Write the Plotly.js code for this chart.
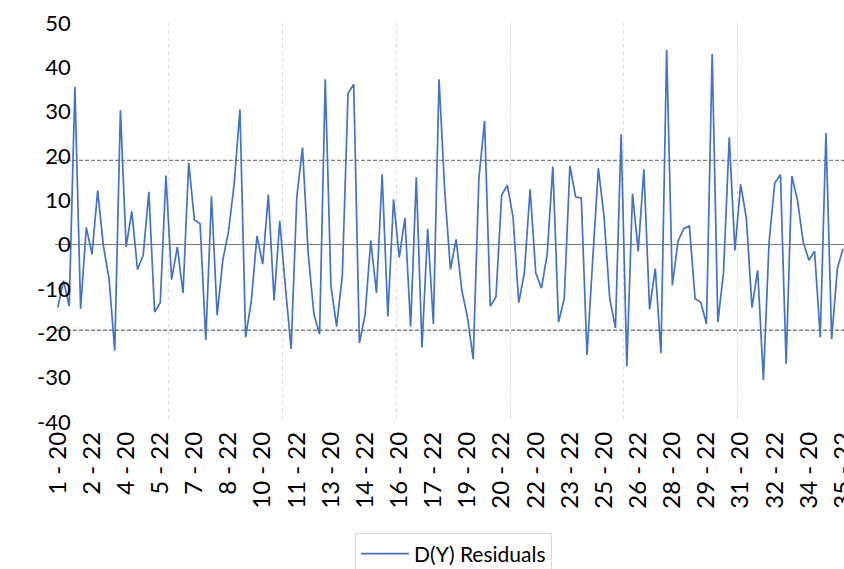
<!DOCTYPE html>
<html>
<head>
<meta charset="utf-8">
<script src="https://cdn.plot.ly/plotly-3.0.1.min.js"></script>
<style>html,body{margin:0;padding:0;background:#fff;}#chart{width:844px;height:569px;}</style>
</head>
<body>
<div id="chart"></div>
<script>
// Category labels: "week - year"
const categories = [
"1 - 20","1 - 21","1 - 22","1 - 23","2 - 20","2 - 21","2 - 22","2 - 23","3 - 20","3 - 21","3 - 22","3 - 23",
"4 - 20","4 - 21","4 - 22","4 - 23","5 - 20","5 - 21","5 - 22","5 - 23","6 - 20","6 - 21","6 - 22","6 - 23",
"7 - 20","7 - 21","7 - 22","7 - 23","8 - 20","8 - 21","8 - 22","8 - 23","9 - 20","9 - 21","9 - 22","9 - 23",
"10 - 20","10 - 21","10 - 22","10 - 23","11 - 20","11 - 21","11 - 22","11 - 23","12 - 20","12 - 21","12 - 22","12 - 23",
"13 - 20","13 - 21","13 - 22","13 - 23","14 - 20","14 - 21","14 - 22","14 - 23","15 - 20","15 - 21","15 - 22","15 - 23",
"16 - 20","16 - 21","16 - 22","16 - 23","17 - 20","17 - 21","17 - 22","17 - 23","18 - 20","18 - 21","18 - 22","18 - 23",
"19 - 20","19 - 21","19 - 22","19 - 23","20 - 20","20 - 21","20 - 22","20 - 23","21 - 20","21 - 21","21 - 22","21 - 23",
"22 - 20","22 - 21","22 - 22","22 - 23","23 - 20","23 - 21","23 - 22","23 - 23","24 - 20","24 - 21","24 - 22","24 - 23",
"25 - 20","25 - 21","25 - 22","25 - 23","26 - 20","26 - 21","26 - 22","26 - 23","27 - 20","27 - 21","27 - 22","27 - 23",
"28 - 20","28 - 21","28 - 22","28 - 23","29 - 20","29 - 21","29 - 22","29 - 23","30 - 20","30 - 21","30 - 22","30 - 23",
"31 - 20","31 - 21","31 - 22","31 - 23","32 - 20","32 - 21","32 - 22","32 - 23","33 - 20","33 - 21","33 - 22","33 - 23",
"34 - 20","34 - 21","34 - 22","34 - 23","35 - 20","35 - 21","35 - 22"
];

// D(Y) residuals
const residuals = [
-14.2,-8.1,-13.9,35.6,-14.5,3.9,-2.2,12.2,-0.2,-7.7,-23.9,30.3,
-0.5,7.5,-5.6,-2.4,11.9,-15.2,-13.1,15.6,-7.9,-0.5,-10.9,18.5,
5.6,4.7,-21.5,10.9,-15.9,-3.4,3.0,13.8,30.5,-20.9,-12.7,2.0,
-4.4,11.3,-12.6,5.3,-9.6,-23.5,10.8,21.9,-2.0,-15.6,-20.2,37.3,
-9.3,-18.5,-6.9,34.1,36.2,-22.2,-15.8,0.9,-10.9,15.9,-16.2,10.2,
-2.9,6.0,-18.5,15.2,-23.2,3.6,-17.9,37.3,12.0,-5.6,1.2,-10.3,
-16.4,-25.8,14.9,27.9,-13.9,-11.8,11.2,13.4,6.3,-13.1,-6.3,12.5,
-6.4,-9.8,-2.2,17.6,-17.5,-12.2,17.8,10.8,10.5,-24.9,-3.5,17.2,
6.3,-12.2,-18.8,24.9,-27.5,11.5,-1.5,17.0,-14.6,-5.4,-24.5,43.9,
-9.2,0.8,3.6,4.2,-12.2,-13.0,-17.9,43.0,-17.5,-6.2,24.2,-1.3,
13.6,6.1,-14.2,-5.8,-30.5,0.6,13.9,15.8,-26.9,15.5,10.0,0.6,
-3.5,-1.5,-20.9,25.2,-21.3,-5.4,-0.9
];

// Control band limits (dashed lines)
const upperLimit = 19.0;
const lowerLimit = -19.3;

// Axis tick labels
const xTickLabels = ["1 - 20","2 - 22","4 - 20","5 - 22","7 - 20","8 - 22","10 - 20","11 - 22","13 - 20","14 - 22","16 - 20","17 - 22",
"19 - 20","20 - 22","22 - 20","23 - 22","25 - 20","26 - 22","28 - 20","29 - 22","31 - 20","32 - 22","34 - 20","35 - 22"];
const yTickValues = [-40,-30,-20,-10,0,10,20,30,40,50];
const yTickLabels = ["-40","-30","-20","-10","0","10","20","30","40","50"];

const FONT = "Lato, 'Open Sans', sans-serif";
const xRange = [-0.5, 138.17];

const traces = [
  {
    type: 'scatter', mode: 'lines', name: 'D(Y) Residuals',
    x: categories, y: residuals,
    line: {color: '#4472C4', width: 1.7}
  },
  // empty helper trace so the gridline axis (every 20 categories) is drawn
  {type: 'scatter', mode: 'lines', x: [], y: [], xaxis: 'x2', yaxis: 'y', showlegend: false, hoverinfo: 'skip'}
];

const layout = {
  width: 844, height: 569,
  margin: {l: 55, r: 0, t: 23, b: 147, pad: 0, autoexpand: false},
  paper_bgcolor: '#ffffff', plot_bgcolor: '#ffffff',
  font: {family: FONT, size: 22, color: '#000000'},
  showlegend: true,
  xaxis: {
    type: 'category', range: xRange, automargin: false,
    tickmode: 'array', tickvals: xTickLabels, ticktext: xTickLabels,
    tickangle: -90, ticks: '', showgrid: false, zeroline: false, showline: false,
    tickfont: {family: FONT, size: 24, color: '#000'}, ticklabelstandoff: 4
  },
  xaxis2: {
    overlaying: 'x', anchor: 'y', type: 'linear', range: xRange,
    tickmode: 'linear', tick0: 19.5, dtick: 20,
    showgrid: true, gridcolor: '#e0e0e0', gridwidth: 1, griddash: '4px,3px',
    showticklabels: false, ticks: '', zeroline: false, showline: false
  },
  yaxis: {
    range: [-40, 50], automargin: false, anchor: 'free', position: 0.02,
    tickmode: 'array', tickvals: yTickValues, ticktext: yTickLabels,
    ticks: '', showgrid: false, showline: false,
    zeroline: true, zerolinecolor: '#7a7a7a', zerolinewidth: 1.6,
    tickfont: {family: FONT, size: 22, color: '#000'}, ticklabelstandoff: 0
  },
  shapes: [
    {type: 'line', xref: 'paper', x0: 0, x1: 1, yref: 'y', y0: upperLimit, y1: upperLimit,
     line: {color: '#808080', width: 1.3, dash: '4px,2px'}, layer: 'below'},
    {type: 'line', xref: 'paper', x0: 0, x1: 1, yref: 'y', y0: lowerLimit, y1: lowerLimit,
     line: {color: '#808080', width: 1.3, dash: '4px,2px'}, layer: 'below'}
  ],
  legend: {
    orientation: 'h', x: 0.505, xanchor: 'center', y: -0.277, yanchor: 'top',
    bordercolor: '#d9d9d9', borderwidth: 1, bgcolor: '#ffffff', itemwidth: 48,
    font: {family: FONT, size: 21, color: '#000'}
  }
};

Plotly.newPlot('chart', traces, layout, {displayModeBar: false, staticPlot: true});
</script>
</body>
</html>
